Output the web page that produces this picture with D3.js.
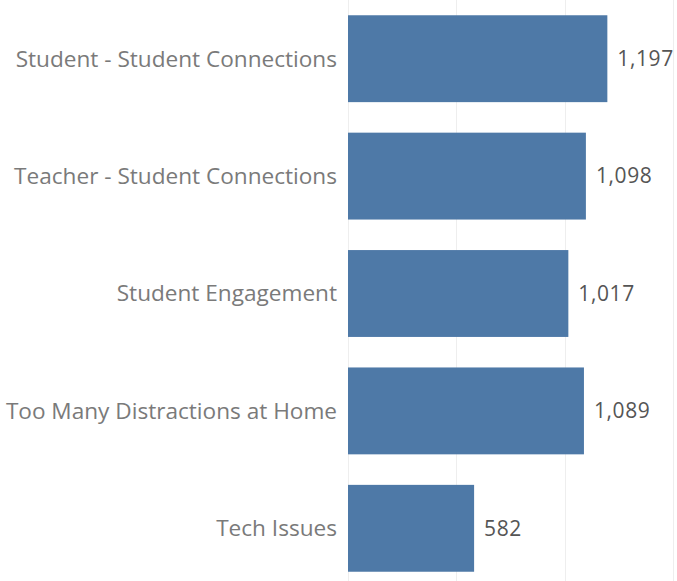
<!DOCTYPE html>
<html>
  <head>
    <script src="https://cdn.jsdelivr.net/npm/d3@7"></script>
    <style>
      body { margin: 0; background: #fff; }
      text { font-family: "Open Sans", sans-serif; }
    </style>
  </head>
  <body>
    <div id="chart"></div>
    <script type="text/javascript">
      var categories = ["Student - Student Connections", "Teacher - Student Connections", "Student Engagement", "Too Many Distractions at Home", "Tech Issues"],
          counts = [1197, 1098, 1017, 1089, 582],
          gridTicks = [0, 500, 1000, 1500];

      var width = 677,
          height = 581,
          left = 348;

      var svg = d3.select("#chart").append("svg")
          .attr("width", width)
          .attr("height", height);

      var x = d3.scaleLinear()
          .domain([0, 1500])
          .range([left, left + 325]);

      var y = d3.scaleBand()
          .domain(categories)
          .range([0, 587])
          .paddingInner(0.26)
          .paddingOuter(0.13);

      // light vertical gridlines
      svg.selectAll(".grid")
          .data(gridTicks)
          .enter().append("line")
            .attr("class", "grid")
            .attr("x1", function(d) { return Math.round(x(d)) + 0.5; })
            .attr("x2", function(d) { return Math.round(x(d)) + 0.5; })
            .attr("y1", 0)
            .attr("y2", height)
            .style("stroke", "#eeeeee")
            .style("stroke-width", 1);

      svg.selectAll(".bar")
          .data(counts)
          .enter().append("rect")
            .attr("class", "bar")
            .attr("x", x(0))
            .attr("y", function(d, i) { return y(categories[i]); })
            .attr("width", function(d) { return x(d) - x(0); })
            .attr("height", y.bandwidth())
            .style("fill", "#4e79a7");

      svg.selectAll(".catLabel")
          .data(categories)
          .enter().append("text")
            .attr("class", "catLabel")
            .text(function(d) { return d; })
            .attr("x", left - 11)
            .attr("y", function(d) { return y(d) + y.bandwidth() / 2; })
            .attr("dy", "0.35em")
            .style("text-anchor", "end")
            .style("font-size", "22.6px")
            .style("fill", "#7a7a7a");

      svg.selectAll(".valLabel")
          .data(counts)
          .enter().append("text")
            .attr("class", "valLabel")
            .text(function(d) { return d3.format(",")(d); })
            .attr("x", function(d) { return x(d) + 10; })
            .attr("y", function(d, i) { return y(categories[i]) + y.bandwidth() / 2; })
            .attr("dy", "0.35em")
            .style("font-size", "21px")
            .style("letter-spacing", "0.6px")
            .style("fill", "#555");
    </script>
  </body>
</html>
